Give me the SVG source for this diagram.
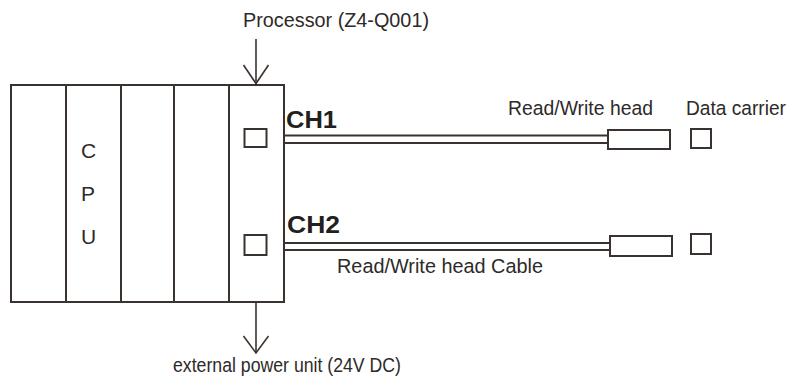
<svg xmlns="http://www.w3.org/2000/svg" width="789" height="381" viewBox="0 0 789 381">
<style>
.ln{fill:none;stroke:#3a322e;stroke-width:2}
.thin{fill:none;stroke:#3a322e;stroke-width:1.6}
.cab{fill:none;stroke:#3a322e;stroke-width:2}
.box{fill:#fff;stroke:#3a322e;stroke-width:2}
.t{font-family:"Liberation Sans",Arial,sans-serif;font-size:19.3px;fill:#2e2a28}
.cpu{font-family:"Liberation Sans",Arial,sans-serif;font-size:21px;fill:#2e2a28}
.ch{font-family:"Liberation Sans",Arial,sans-serif;font-size:23px;font-weight:bold;fill:#231f1d}
</style>
<rect width="789" height="381" fill="#fff"/>
<g id="rack">
<rect class="ln" x="11" y="85" width="273" height="217"/>
<line class="ln" x1="66" y1="85" x2="66" y2="302"/>
<line class="ln" x1="121" y1="85" x2="121" y2="302"/>
<line class="ln" x1="174" y1="85" x2="174" y2="302"/>
<line class="ln" x1="229" y1="85" x2="229" y2="302"/>
</g>
<g id="cpu">
<text class="cpu" x="88.5" y="157.5" text-anchor="middle">C</text>
<text class="cpu" x="88" y="201" text-anchor="middle">P</text>
<text class="cpu" x="88.5" y="244" text-anchor="middle">U</text>
</g>
<g id="processor">
<rect class="box" x="244.5" y="129" width="22" height="18"/>
<rect class="box" x="244.5" y="235" width="22" height="20"/>
<text class="ch" x="286" y="128" textLength="51" lengthAdjust="spacingAndGlyphs">CH1</text>
<text class="ch" x="287" y="233" textLength="53" lengthAdjust="spacingAndGlyphs">CH2</text>
<text class="t" x="243" y="27" textLength="186" lengthAdjust="spacingAndGlyphs">Processor (Z4-Q001)</text>
</g>
<g id="head1">
<rect class="box" x="608" y="130" width="62" height="19"/>
<text class="t" x="508" y="115" textLength="145" lengthAdjust="spacingAndGlyphs">Read/Write head</text>
</g>
<g id="head2">
<rect class="box" x="610" y="236" width="62" height="20"/>
</g>
<g id="carrier1">
<rect class="box" x="691" y="129" width="20" height="19"/>
<text class="t" x="686" y="115" textLength="100" lengthAdjust="spacingAndGlyphs">Data carrier</text>
</g>
<g id="carrier2">
<rect class="box" x="691" y="234" width="20" height="20"/>
</g>
<g id="power">
<text class="t" x="173" y="372" textLength="228" lengthAdjust="spacingAndGlyphs">external power unit (24V DC)</text>
</g>
<g id="connectors">
<line class="cab" x1="284" y1="135.5" x2="608" y2="135.5"/>
<line class="cab" x1="284" y1="143" x2="608" y2="143"/>
<line class="cab" x1="284" y1="243" x2="610" y2="243"/>
<line class="cab" x1="284" y1="250" x2="610" y2="250"/>
<text class="t" x="337" y="273" textLength="206" lengthAdjust="spacingAndGlyphs">Read/Write head Cable</text>
<line class="thin" x1="256" y1="39" x2="256" y2="84"/>
<polyline class="thin" points="243.5,65 256,83.5 268.5,65"/>
<line class="thin" x1="256" y1="302" x2="256" y2="353"/>
<polyline class="thin" points="243.5,336 256,353 268.5,336"/>
</g>
</svg>
